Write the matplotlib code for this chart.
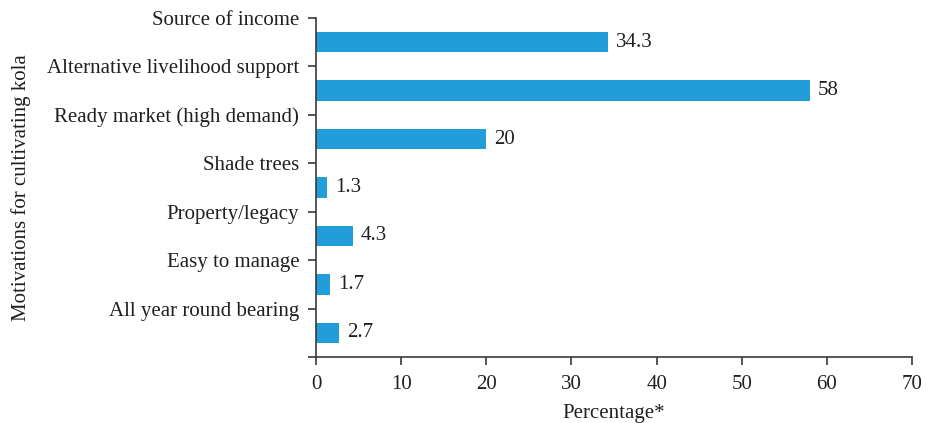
import matplotlib.pyplot as plt
import numpy as np

plt.rcParams['font.family'] = ['Liberation Serif', 'DejaVu Serif']

motivations = ["Source of income", "Alternative livelihood support",
               "Ready market (high demand)", "Shade trees", "Property/legacy",
               "Easy to manage", "All year round bearing"]
percent = [34.3, 58, 20, 1.3, 4.3, 1.7, 2.7]
value_labels = ["34.3", "58", "20", "1.3", "4.3", "1.7", "2.7"]

txt = '#231f20'
fs = 15
fig = plt.figure(figsize=(9.26, 4.23), dpi=100)
ax = fig.add_axes([316/926, 1 - 357/423, 596/926, (357 - 18)/423])

pos = np.arange(len(motivations)) + 0.5
ax.barh(pos, percent, height=0.42, color='#219ed9')
for y, v, s in zip(pos, percent, value_labels):
    ax.text(v + 0.9, y, s, va='center', ha='left', fontsize=fs, color=txt)

ax.set_ylim(len(motivations), 0)
ax.set_xlim(0, 70)
ax.set_yticks(np.arange(len(motivations) + 1))
ax.set_yticklabels(motivations + [""])
ax.set_xticks(range(0, 71, 10))

for s in ['top', 'right']:
    ax.spines[s].set_visible(False)
for s in ['left', 'bottom']:
    ax.spines[s].set_color('#3a3a3a')
    ax.spines[s].set_linewidth(1.2)
ax.tick_params(axis='both', colors='#3a3a3a', labelcolor=txt, labelsize=fs,
               length=6, width=1.2)
ax.tick_params(axis='y', pad=6)
ax.tick_params(axis='x', pad=7)

ax.set_xlabel("Percentage*", fontsize=fs, color=txt, labelpad=7)
ax.set_ylabel("Motivations for cultivating kola", fontsize=fs, color=txt)
ax.yaxis.set_label_coords(-285/596, 0.5)

fig.savefig('out.png', dpi=100)
